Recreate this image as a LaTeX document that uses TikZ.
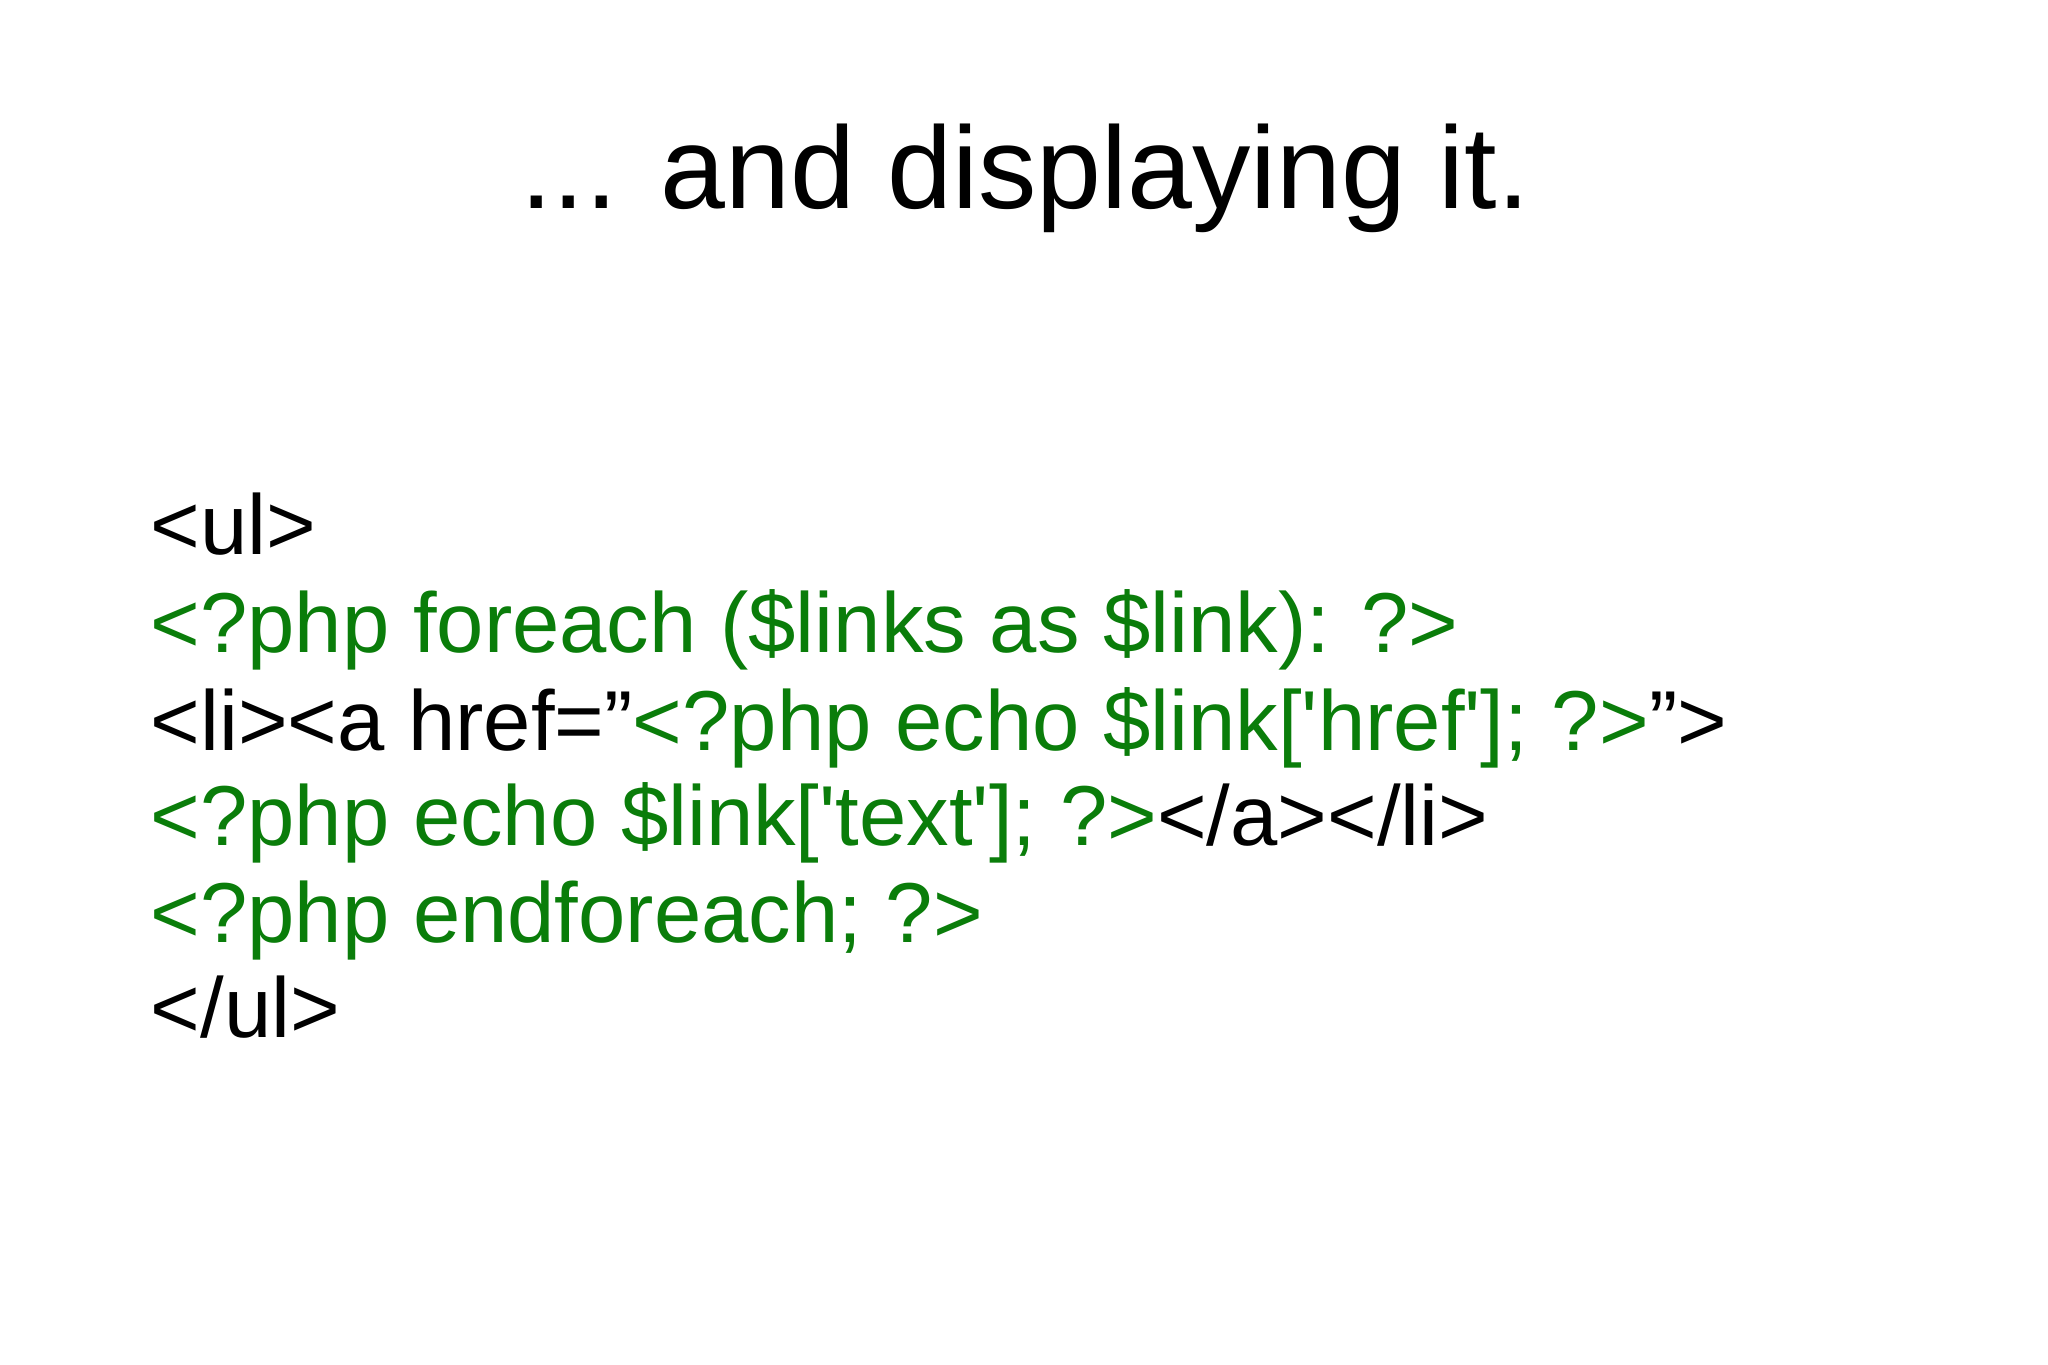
\documentclass[tikz,border=0pt]{standalone}
\usepackage{fontspec}
\setmainfont{Liberation Sans}
\definecolor{codegreen}{RGB}{10,125,10}
\newcommand{\sq}{\XeTeXglyph\XeTeXcharglyph"27\relax}
\begin{document}
\begin{tikzpicture}[x=1cm,y=1cm,
  ln/.style={anchor=base west,inner sep=0pt,font=\fontsize{24.2pt}{28pt}\selectfont},
  g/.style={text=codegreen}]
\useasboundingbox (0,0) rectangle (20.48,13.65);
\fill[white] (0,0) rectangle (20.48,13.65);
\node[anchor=base,inner sep=0pt,font=\fontsize{33.2pt}{40pt}\selectfont] (title) at (10.25,11.56) {... and displaying it.};
\node[ln] (l1) at (1.50,8.10) {<ul>};
\node[ln,g] (l2) at (1.50,7.12) {<?php foreach (\$links as \$link): ?>};
\node[ln] (l3) at (1.50,6.14) {<li><a href=”\textcolor{codegreen}{<?php echo \$link[\sq href\sq]; ?>}”>};
\node[ln] (l4) at (1.50,5.19) {\textcolor{codegreen}{<?php echo \$link[\sq text\sq]; ?>}</a></li>};
\node[ln,g] (l5) at (1.50,4.22) {<?php endforeach; ?>};
\node[ln] (l6) at (1.50,3.27) {</ul>};
\end{tikzpicture}
\end{document}
